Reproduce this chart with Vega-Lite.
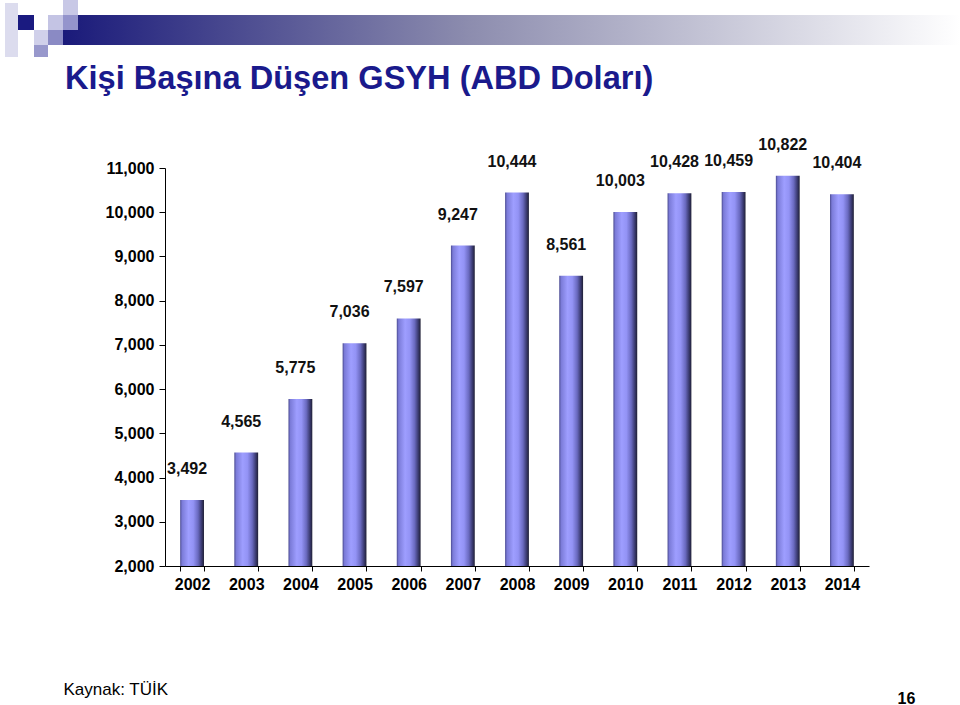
{
  "$schema": "https://vega.github.io/schema/vega-lite/v6.json",
  "width": 704,
  "height": 398,
  "autosize": {"type": "none"},
  "padding": {"left": 165, "top": 168, "right": 91, "bottom": 139},
  "background": "white",
  "config": {"view": {"stroke": null}, "font": "Liberation Sans"},
  "title": {
    "text": "Kişi Başına Düşen GSYH (ABD Doları)",
    "anchor": "start",
    "frame": "group",
    "orient": "top",
    "font": "Liberation Sans",
    "fontSize": 32.6,
    "fontWeight": "bold",
    "color": "#1a1a8c",
    "dx": -100,
    "dy": 122,
    "baseline": "alphabetic",
    "offset": 0
  },
  "data": {
    "values": [
      {"yil": "2002", "gsyh": 3492},
      {"yil": "2003", "gsyh": 4565},
      {"yil": "2004", "gsyh": 5775},
      {"yil": "2005", "gsyh": 7036},
      {"yil": "2006", "gsyh": 7597},
      {"yil": "2007", "gsyh": 9247},
      {"yil": "2008", "gsyh": 10444},
      {"yil": "2009", "gsyh": 8561},
      {"yil": "2010", "gsyh": 10003},
      {"yil": "2011", "gsyh": 10428},
      {"yil": "2012", "gsyh": 10459},
      {"yil": "2013", "gsyh": 10822},
      {"yil": "2014", "gsyh": 10404}
    ]
  },
  "layer": [
    {
      "data": {"values": [{}]},
      "mark": {"type": "rect", "clip": false, "fill": {"gradient": "linear", "x1": 0, "x2": 1, "y1": 0, "y2": 0, "stops": [{"offset": 0, "color": "#1a1a7a"}, {"offset": 0.45, "color": "#8c8cae"}, {"offset": 1, "color": "#ffffff"}]}},
      "encoding": {"x": {"value": -102}, "x2": {"value": 795}, "y": {"value": -153}, "y2": {"value": -123}}
    },
    {
      "data": {"values": [{}]},
      "mark": {"type": "rect", "fill": "#dcdcee"},
      "encoding": {"x": {"value": -160}, "x2": {"value": -147}, "y": {"value": -165}, "y2": {"value": -111}}
    },
    {
      "data": {"values": [{}]},
      "mark": {"type": "rect", "fill": "#1a1a80"},
      "encoding": {"x": {"value": -147}, "x2": {"value": -131}, "y": {"value": -153}, "y2": {"value": -138}}
    },
    {
      "data": {"values": [{}]},
      "mark": {"type": "rect", "fill": "#c8c8e6"},
      "encoding": {"x": {"value": -102}, "x2": {"value": -87}, "y": {"value": -168}, "y2": {"value": -153}}
    },
    {
      "data": {"values": [{}]},
      "mark": {"type": "rect", "fill": "#c4c4e4"},
      "encoding": {"x": {"value": -117}, "x2": {"value": -102}, "y": {"value": -153}, "y2": {"value": -138}}
    },
    {
      "data": {"values": [{}]},
      "mark": {"type": "rect", "fill": "#9494cc"},
      "encoding": {"x": {"value": -102}, "x2": {"value": -87}, "y": {"value": -153}, "y2": {"value": -138}}
    },
    {
      "data": {"values": [{}]},
      "mark": {"type": "rect", "fill": "#d0d0ea"},
      "encoding": {"x": {"value": -131}, "x2": {"value": -117}, "y": {"value": -138}, "y2": {"value": -123}}
    },
    {
      "data": {"values": [{}]},
      "mark": {"type": "rect", "fill": "#8a8ac4"},
      "encoding": {"x": {"value": -117}, "x2": {"value": -102}, "y": {"value": -138}, "y2": {"value": -123}}
    },
    {
      "data": {"values": [{}]},
      "mark": {"type": "rect", "fill": "#9898cc"},
      "encoding": {"x": {"value": -131}, "x2": {"value": -117}, "y": {"value": -123}, "y2": {"value": -111}}
    },
    {
      "mark": {
        "type": "bar",
        "fill": {"gradient": "linear", "x1": 0, "x2": 1, "y1": 0, "y2": 0, "stops": [
          {"offset": 0, "color": "#4a4a90"},
          {"offset": 0.08, "color": "#7b7bd8"},
          {"offset": 0.35, "color": "#9e9eff"},
          {"offset": 0.55, "color": "#9393f5"},
          {"offset": 0.75, "color": "#6a6ac0"},
          {"offset": 0.9, "color": "#3a3a70"},
          {"offset": 1, "color": "#202035"}
        ]}
      },
      "encoding": {
        "x": {
          "field": "yil",
          "type": "ordinal",
          "scale": {"paddingInner": 0.56, "paddingOuter": 0.28},
          "axis": {
            "title": "Kaynak: TÜİK",
            "titleX": -102,
            "titleY": 123,
            "titleAlign": "left",
            "titleBaseline": "middle",
            "titleFont": "Liberation Sans",
            "titleFontSize": 17,
            "titleFontWeight": "normal",
            "titleColor": "#000000",
            "labelAngle": 0,
            "labelFont": "Liberation Sans",
            "labelFontSize": 16,
            "labelFontWeight": "bold",
            "labelColor": "#000000",
            "labelPadding": 5,
            "tickBand": "extent",
            "tickSize": 5,
            "tickColor": "#000000",
            "domainColor": "#000000",
            "domainWidth": 1
          }
        },
        "y": {
          "field": "gsyh",
          "type": "quantitative",
          "scale": {"domain": [2000, 11000], "nice": false, "zero": false},
          "axis": {
            "title": "16",
            "titleAngle": 0,
            "titleX": 741,
            "titleY": 530,
            "titleAlign": "center",
            "titleBaseline": "middle",
            "titleFont": "Liberation Sans",
            "titleFontSize": 16,
            "titleFontWeight": "bold",
            "titleColor": "#000000",
            "values": [2000, 3000, 4000, 5000, 6000, 7000, 8000, 9000, 10000, 11000],
            "format": ",.0f",
            "grid": false,
            "labelFont": "Liberation Sans",
            "labelFontSize": 16,
            "labelFontWeight": "bold",
            "labelColor": "#000000",
            "labelPadding": 5,
            "tickSize": 6,
            "tickColor": "#000000",
            "domainColor": "#000000",
            "domainWidth": 1
          }
        },
        "y2": {"datum": 2000}
      }
    },
    {
      "mark": {"type": "text", "font": "Liberation Sans", "fontSize": 16, "fontWeight": "bold", "color": "#111111", "dy": -31, "dx": -5, "baseline": "middle", "align": "center"},
      "encoding": {
        "x": {"field": "yil", "type": "ordinal"},
        "y": {"field": "gsyh", "type": "quantitative"},
        "text": {"field": "gsyh", "type": "quantitative", "format": ","}
      }
    }
  ]
}
